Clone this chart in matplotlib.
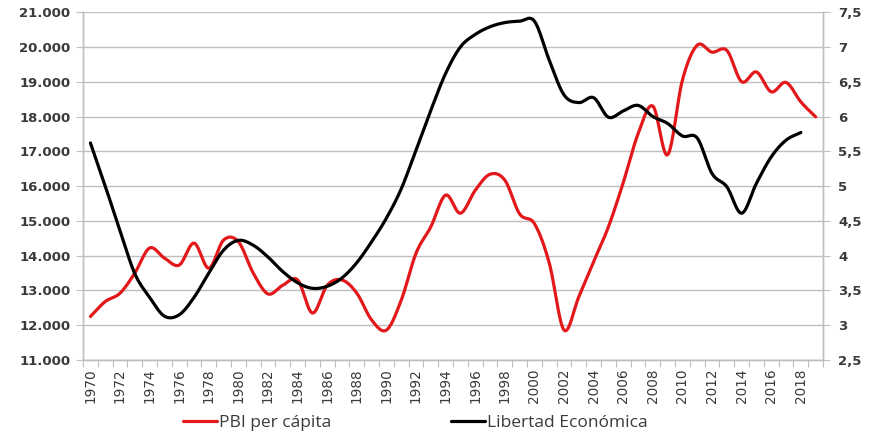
import numpy as np
import matplotlib
matplotlib.use("Agg")
import matplotlib.pyplot as plt
from matplotlib.ticker import FuncFormatter, MultipleLocator

years = list(range(1970, 2020))

# PBI per cápita (left axis)
pbi = [12250, 12680, 12920, 13500, 14220, 13930, 13730, 14360, 13640, 14450,
       14400, 13500, 12900, 13150, 13300, 12350, 13150, 13300, 12920, 12150,
       11860, 12720, 14070, 14830, 15740, 15220, 15880, 16340, 16170, 15200,
       14920, 13790, 11860, 12820, 13830, 14830, 16100, 17500, 18300, 16900,
       19050, 20050, 19850, 19900, 19000, 19280, 18710, 18980, 18420, 17990]

# Libertad Económica (right axis), 1970-2018
libertad = [5.62, 5.00, 4.36, 3.74, 3.40, 3.13, 3.15, 3.40, 3.75, 4.08,
            4.22, 4.15, 3.98, 3.77, 3.61, 3.53, 3.56, 3.68, 3.90, 4.20,
            4.54, 4.96, 5.52, 6.09, 6.62, 7.00, 7.18, 7.29, 7.35, 7.37,
            7.37, 6.81, 6.31, 6.20, 6.27, 5.99, 6.08, 6.16, 6.00, 5.90,
            5.72, 5.69, 5.18, 4.99, 4.61, 5.04, 5.42, 5.66, 5.77]

grid_c = "#BFBFBF"
text_c = "#3A3A3A"


def smooth(x, y, n=16):
    # Catmull-Rom smoothing, close to Excel's "smoothed line"
    x = np.asarray(x, float)
    y = np.asarray(y, float)
    px = np.concatenate([[2 * x[0] - x[1]], x, [2 * x[-1] - x[-2]]])
    py = np.concatenate([[2 * y[0] - y[1]], y, [2 * y[-1] - y[-2]]])
    t = np.linspace(0, 1, n, endpoint=False)
    h00 = 2 * t**3 - 3 * t**2 + 1
    h10 = t**3 - 2 * t**2 + t
    h01 = -2 * t**3 + 3 * t**2
    h11 = t**3 - t**2
    xs, ys = [], []
    for i in range(1, len(px) - 2):
        for src, dst in ((px, xs), (py, ys)):
            a0, a1, a2, a3 = src[i - 1], src[i], src[i + 1], src[i + 2]
            m1 = (a2 - a0) / 2
            m2 = (a3 - a1) / 2
            dst.extend(h00 * a1 + h10 * m1 + h01 * a2 + h11 * m2)
    xs.append(x[-1])
    ys.append(y[-1])
    return np.array(xs), np.array(ys)


fig = plt.figure(figsize=(8.74, 4.34), dpi=100)
ax = fig.add_axes([0.095, 0.1705, 0.8467, 0.8015])
ax2 = ax.twinx()

sx, sy = smooth(years, pbi)
l1, = ax.plot(sx, sy, color="#E3181B", lw=2.3, solid_capstyle="round",
              label="PBI per cápita", zorder=3)
sx2, sy2 = smooth(years[:len(libertad)], libertad)
l2, = ax2.plot(sx2, sy2, color="black", lw=2.3, solid_capstyle="round",
               label="Libertad Económica", zorder=3)

ax.set_xlim(1969.5, 2019.5)
ax.set_ylim(11000, 21000)
ax2.set_ylim(2.5, 7.5)

ax.yaxis.set_major_locator(MultipleLocator(1000))
ax.yaxis.set_major_formatter(FuncFormatter(lambda v, p: f"{int(v):,}".replace(",", ".")))
ax2.yaxis.set_major_locator(MultipleLocator(0.5))
ax2.yaxis.set_major_formatter(FuncFormatter(lambda v, p: f"{v:g}".replace(".", ",")))

ax.set_xticks(np.arange(1969.5, 2020, 1), minor=False)
ax.set_xticklabels([])
ax.set_xticks(years[::2], minor=True)
ax.set_xticklabels([str(y) for y in years[::2]], minor=True, rotation=90)
ax.tick_params(axis="x", which="minor", length=0, pad=6, labelsize=9.8, labelcolor=text_c)
ax.tick_params(axis="x", which="major", length=5, color=grid_c, direction="out")

ax.grid(axis="y", color=grid_c, lw=1)
ax.tick_params(axis="y", length=5, color=grid_c, labelsize=9.5, labelcolor=text_c, pad=4)
ax2.tick_params(axis="y", length=5, color=grid_c, labelsize=9.5, labelcolor=text_c, pad=6)
for lab in ax.get_yticklabels() + ax2.get_yticklabels():
    lab.set_fontweight("bold")

for a in (ax, ax2):
    a.spines["top"].set_visible(False)
    for s in ("left", "right", "bottom"):
        a.spines[s].set_color(grid_c)
        a.spines[s].set_linewidth(1)

leg = fig.legend(handles=[l1, l2], loc="center left",
                 bbox_to_anchor=(183 / 874, 1 - 423 / 434),
                 ncol=2, frameon=False, handlelength=1.95, borderpad=0,
                 borderaxespad=0, handletextpad=0.12, columnspacing=6.9,
                 prop={"family": "Open Sans", "size": 12.5})
for t in leg.get_texts():
    t.set_color(text_c)

fig.savefig("out.png", dpi=100)
